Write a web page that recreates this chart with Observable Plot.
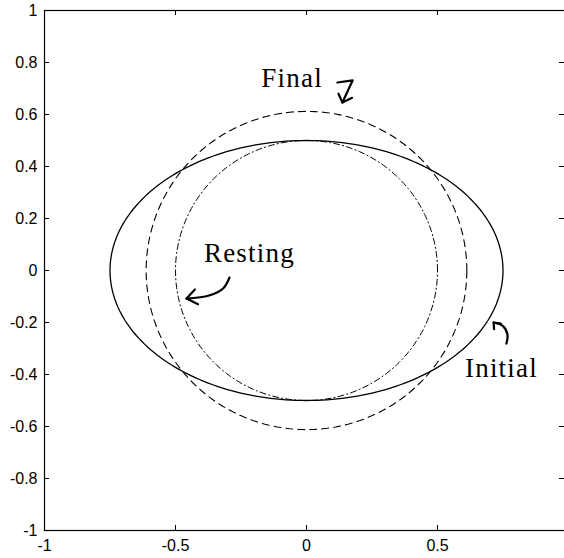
<!DOCTYPE html>
<html>
<head>
<meta charset="utf-8">
<script src="https://cdn.jsdelivr.net/npm/d3@7"></script>
<script src="https://cdn.jsdelivr.net/npm/@observablehq/plot@0.6"></script>
<style>
  html, body { margin: 0; padding: 0; background: #fff; }
  #chart svg { display: block; }
</style>
</head>
<body>
<div id="chart"></div>
<script>
// Shapes: [name, semi-axis x, semi-axis y]
const shapeNames = ["Initial", "Final", "Resting"];
const semiAxisX = [0.75, 0.612, 0.5];
const semiAxisY = [0.5, 0.612, 0.5];

// Tick values
const xTicks = [-1, -0.5, 0, 0.5];
const yTicks = [-1, -0.8, -0.6, -0.4, -0.2, 0, 0.2, 0.4, 0.6, 0.8, 1];

// Annotation labels (x center, baseline y) in data units
const labelText = ["Final", "Resting", "Initial"];
const labelX = [-0.055, -0.218, 0.744];
const labelY = [0.704, 0.031, -0.408];

// Hand-drawn arrows: paths in data units
const arrowFinalX = [0.118, 0.176, 0.137];
const arrowFinalY = [0.723, 0.731, 0.646];
const arrowFinalHeadX = [0.122, 0.137, 0.174];
const arrowFinalHeadY = [0.680, 0.646, 0.664];

const arrowRestingX = [-0.294, -0.318, -0.372, -0.458];
const arrowRestingY = [-0.027, -0.069, -0.096, -0.108];
const arrowRestingHeadX = [-0.426, -0.458, -0.414];
const arrowRestingHeadY = [-0.073, -0.108, -0.130];

const arrowInitialX = [0.763, 0.767, 0.750, 0.714];
const arrowInitialY = [-0.281, -0.246, -0.214, -0.200];
const arrowInitialHeadX = [0.716, 0.714, 0.742];
const arrowInitialHeadY = [-0.226, -0.200, -0.204];

// Build ellipse outlines from the radii
function outline(i) {
  const pts = [];
  const n = 240;
  for (let k = 0; k <= n; k++) {
    const t = (2 * Math.PI * k) / n;
    pts.push({x: semiAxisX[i] * Math.cos(t), y: semiAxisY[i] * Math.sin(t)});
  }
  return pts;
}
const zip = (xs, ys) => xs.map((x, i) => ({x, y: ys[i]}));
const labels = labelText.map((t, i) => ({t, x: labelX[i], y: labelY[i]}));

const arrowStyle = {x: "x", y: "y", stroke: "#000", strokeWidth: 2.2, curve: "catmull-rom", strokeLinecap: "round", strokeLinejoin: "round"};
const headStyle = {x: "x", y: "y", stroke: "#000", strokeWidth: 2.2, strokeLinecap: "round", strokeLinejoin: "round"};

const sansFont = "Liberation Sans, Arial, Helvetica, sans-serif";
const W = 564, H = 558, ML = 44, MR = -4, MT = 10, MB = 28;
const plotW = W - ML - MR, plotH = H - MT - MB;
const tickLen = 5;

const chart = Plot.plot({
  width: W,
  height: H,
  marginLeft: ML,
  marginRight: MR,
  marginTop: MT,
  marginBottom: MB,
  style: {fontFamily: sansFont, fontSize: "16px", color: "#000", background: "#fff"},
  x: {domain: [-1, 1]},
  y: {domain: [-1, 1]},
  marks: [
    Plot.frame({stroke: "#000", strokeWidth: 1.2}),
    // labeled axes
    Plot.axisX({anchor: "bottom", ticks: xTicks, tickSize: 0, tickPadding: 9, label: null, tickFormat: d => String(d), fill: "#000"}),
    Plot.axisY({anchor: "left", ticks: yTicks, tickSize: 0, tickPadding: 7, label: null, tickFormat: d => String(d), fill: "#000"}),
    // inward ticks on all sides
    Plot.tickX(xTicks, {x: d => d, insetTop: plotH - tickLen, stroke: "#000"}),
    Plot.tickX(xTicks, {x: d => d, insetBottom: plotH - tickLen, stroke: "#000"}),
    Plot.tickY(yTicks, {y: d => d, insetRight: plotW - tickLen, stroke: "#000"}),
    Plot.tickY(yTicks, {y: d => d, insetLeft: plotW - tickLen - 4, insetRight: -4, stroke: "#000"}),
    // shapes
    Plot.line(outline(0), {x: "x", y: "y", stroke: "#000", strokeWidth: 1.3}),
    Plot.line(outline(1), {x: "x", y: "y", stroke: "#000", strokeWidth: 1.1, strokeDasharray: "7,5"}),
    Plot.line(outline(2), {x: "x", y: "y", stroke: "#000", strokeWidth: 1, strokeDasharray: "6,3,1.2,3"}),
    // annotations
    Plot.text(labels, {x: "x", y: "y", text: "t", lineAnchor: "bottom", textAnchor: "middle", fontFamily: "Liberation Serif, Times New Roman, serif", fontSize: 27, fill: "#000"}),
    Plot.line(zip(arrowFinalX, arrowFinalY), headStyle),
    Plot.line(zip(arrowFinalHeadX, arrowFinalHeadY), headStyle),
    Plot.line(zip(arrowRestingX, arrowRestingY), arrowStyle),
    Plot.line(zip(arrowRestingHeadX, arrowRestingHeadY), headStyle),
    Plot.line(zip(arrowInitialX, arrowInitialY), arrowStyle),
    Plot.line(zip(arrowInitialHeadX, arrowInitialHeadY), headStyle)
  ]
});
d3.select(chart).selectAll("g[font-family^='Liberation Serif'] text").attr("letter-spacing", "1.2px");
document.getElementById("chart").appendChild(chart);
</script>
</body>
</html>
